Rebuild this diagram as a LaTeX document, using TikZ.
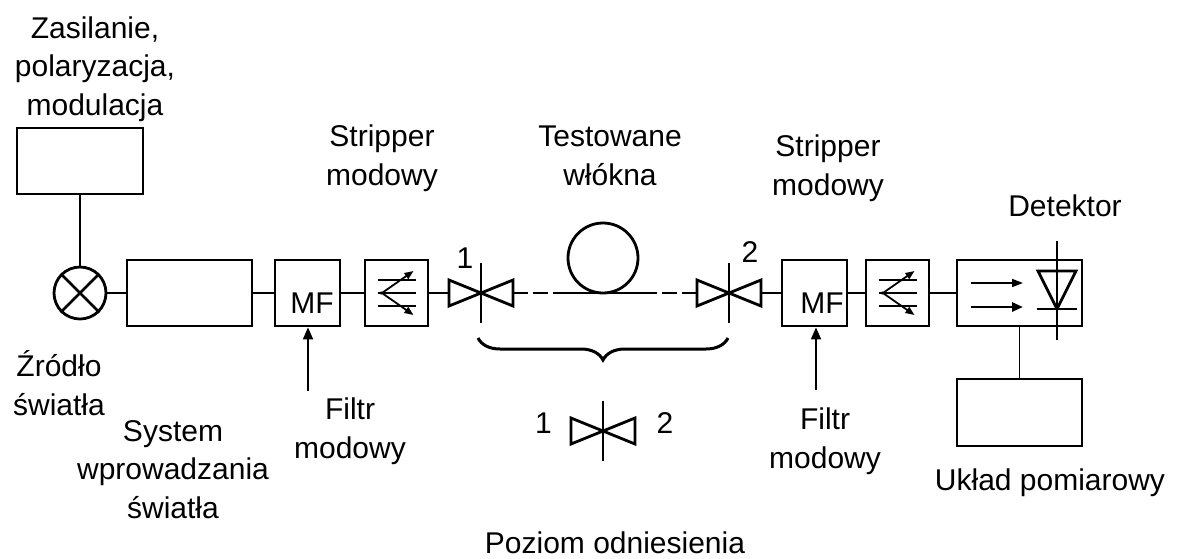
\documentclass[tikz,border=0pt]{standalone}
\usepackage{fontspec}
\setmainfont{Liberation Sans}
\usetikzlibrary{arrows.meta,decorations.pathreplacing}
\tikzset{
  linia/.style={line width=2.8pt},
  cienka/.style={line width=1.8pt},
  blok/.style={draw, line width=2.8pt, inner sep=0pt},
  opis/.style={align=center, inner sep=0pt, anchor=base, font=\fontsize{30}{38.5}\selectfont},
  grot/.style={-{Triangle[length=12pt,width=10pt]}},
  zlacze/.pic={
    \draw[linia, line join=miter] (-32,-13) -- (0,0) -- (-32,13) -- cycle;
    \draw[linia, line join=miter] (32,-13) -- (0,0) -- (32,13) -- cycle;
    \draw[linia] (0,-30) -- (0,30);
    \coordinate (-l) at (-32,0);
    \coordinate (-r) at (32,0);
  },
  strip/.pic={
    \draw[linia] (-19,-13) -- (19,-13) (-19,0) -- (19,0) (-19,13) -- (19,13);
    \draw[cienka, -{Triangle[length=9pt,width=7pt]}] (-16,1) -- (17,-22);
    \draw[cienka, -{Triangle[length=9pt,width=7pt]}] (-16,-1) -- (17,22);
  }
}
\begin{document}
\begin{tikzpicture}[x=1pt, y=-1pt]
  \useasboundingbox (0,0) rectangle (1180,558);

  \node[blok, minimum width=126pt, minimum height=66pt] (zas) at (80,161) {};
  \node[blok, circle, minimum size=52pt] (lampa) at (80,293) {};
  \draw[linia] (lampa.45) -- (lampa.225) (lampa.135) -- (lampa.315);
  \node[blok, minimum width=125pt, minimum height=66pt] (sys) at (189.5,293) {};
  \node[blok, minimum width=65pt, minimum height=66pt] (mf1) at (307.5,293) {};
  \node[opis] (mf1t) at (312,313) {MF};
  \node[blok, minimum width=63pt, minimum height=66pt] (str1) at (396.5,293) {};
  \pic at (str1.center) {strip};
  \pic (z1) at (481,293) {zlacze};
  \node[blok, circle, minimum size=70pt] (zwoj) at (603,258) {};
  \coordinate (w1) at (553,293);
  \coordinate (w2) at (653,293);
  \pic (z2) at (729,293) {zlacze};
  \node[blok, minimum width=65pt, minimum height=66pt] (mf2) at (814.5,293) {};
  \node[opis] (mf2t) at (822,313) {MF};
  \node[blok, minimum width=63pt, minimum height=66pt] (str2) at (897.5,293) {};
  \pic at (str2.center) {strip};
  \node[blok, minimum width=125pt, minimum height=66pt] (det) at (1019.5,293) {};
  \node[blok, minimum width=125pt, minimum height=67pt] (uk) at (1019.5,412.5) {};
  \pic (z0) at (603,431) {zlacze};

  \begin{scope}[shift={(det.center)}]
    \draw[cienka, -{Triangle[length=11pt,width=8pt]}] (-48.5,-10) -- (3.5,-10);
    \draw[linia, -{Triangle[length=11pt,width=9pt]}] (-48.5,14) -- (3.5,14);
    \draw[linia, line join=miter] (18.5,-22) -- (56.5,-22) -- (37.5,16) -- cycle;
    \draw[linia] (17.5,16) -- (57.5,16);
    \draw[linia] (37.5,-52) -- (37.5,47);
  \end{scope}

  \draw[linia] (zas.south) -- (lampa.north);
  \draw[linia] (lampa.east) -- (sys.west);
  \draw[linia] (sys.east) -- (mf1.west);
  \draw[linia] (mf1.east) -- (str1.west);
  \draw[linia] (str1.east) -- (z1-l);
  \draw[linia, dash pattern=on 15pt off 5pt] (z1-r) -- (w1);
  \draw[linia] (w1) -- (w2);
  \draw[linia, dash pattern=on 15pt off 5pt] (z2-l) -- (w2);
  \draw[linia] (z2-r) -- (mf2.west);
  \draw[linia] (mf2.east) -- (str2.west);
  \draw[linia] (str2.east) -- (det.west);
  \draw[cienka] (det.south) -- (uk.north);

  \coordinate (f1) at (308,391);
  \coordinate (f2) at (816,390);
  \draw[cienka, grot] (f1) -- (f1 |- mf1.south);
  \draw[cienka, grot] (f2) -- (f2 |- mf2.south);

  \coordinate (b1) at (478,338);
  \coordinate (b2) at (728,338);
  \draw[line width=3pt, decorate, decoration={brace, amplitude=22pt, mirror}] (b1) -- (b2);

  \node[opis] (t1) at (95,115) {Zasilanie,\\polaryzacja,\\modulacja};
  \node[opis] (t2) at (59,415) {Źródło\\światła};
  \node[opis] (t3) at (173,518) {System\\wprowadzania\\światła};
  \node[opis] (t4) at (382,185) {Stripper\\modowy};
  \node[opis] (t5) at (610,185) {Testowane\\włókna};
  \node[opis] (t6) at (828,195) {Stripper\\modowy};
  \node[opis] (t7) at (1065,216) {Detektor};
  \node[opis] (n1) at (465,268) {1};
  \node[opis] (n2) at (750,262) {2};
  \node[opis] (t8) at (350,458) {Filtr\\modowy};
  \node[opis] (t9) at (825,468) {Filtr\\modowy};
  \node[opis] (n3) at (543.5,433) {1};
  \node[opis] (n4) at (665,433) {2};
  \node[opis] (t10) at (1050,490) {Układ pomiarowy};
  \node[opis] (t11) at (615,553) {Poziom odniesienia};
\end{tikzpicture}
\end{document}
